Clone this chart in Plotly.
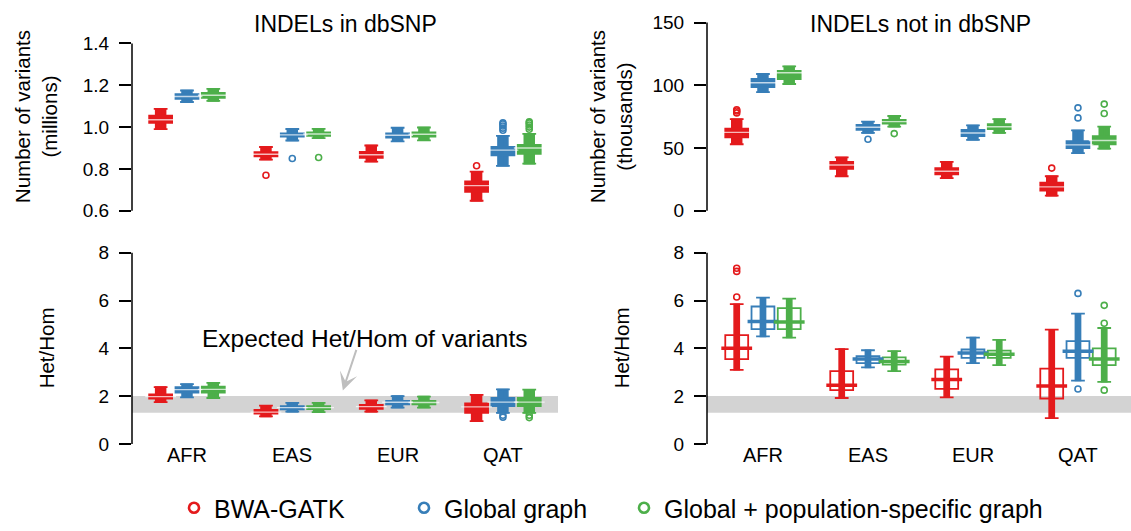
import plotly.graph_objects as go

W, H = 1131, 531
FONT = "Liberation Sans, Arial, Helvetica, sans-serif"

categories = ["AFR", "EAS", "EUR", "QAT"]
methods = ["BWA-GATK", "Global graph", "Global + population-specific graph"]
colors = ["#E41A1C", "#377EB8", "#4DAF4A"]
offsets = [-0.25, 0.0, 0.25]

# ---- INDELs in dbSNP : number of variants (millions); rows = methods, cols = categories
in_lo = [[0.99, 0.845, 0.835, 0.648], [1.12, 0.936, 0.932, 0.815], [1.125, 0.947, 0.937, 0.825]]
in_q1 = [[1.02, 0.86, 0.853, 0.69], [1.135, 0.955, 0.95, 0.865], [1.14, 0.958, 0.955, 0.872]]
in_med = [[1.035, 0.87, 0.868, 0.72], [1.146, 0.963, 0.961, 0.89], [1.152, 0.967, 0.966, 0.90]]
in_q3 = [[1.055, 0.88, 0.882, 0.74], [1.158, 0.97, 0.97, 0.905], [1.163, 0.975, 0.975, 0.915]]
in_hi = [[1.087, 0.905, 0.912, 0.787], [1.175, 0.991, 0.997, 0.958], [1.183, 0.992, 0.998, 0.968]]
in_out = [[[], [0.77], [], [0.815]],
          [[], [0.85], [], [0.985, 0.995, 1.005, 1.015, 1.02]],
          [[], [0.855], [], [0.99, 1.0, 1.01, 1.02, 1.025]]]

# ---- INDELs not in dbSNP : number of variants (thousands)
not_lo = [[53, 27.5, 26, 12], [94.5, 62, 56.5, 46], [101, 67, 62, 49.5]]
not_q1 = [[58.5, 33.5, 29, 16], [98.5, 64.5, 59.5, 50], [105, 69.5, 65, 53]]
not_med = [[62.5, 36.5, 31.5, 19], [102, 66.5, 62, 52.5], [110, 71, 67, 56]]
not_q3 = [[65.5, 39, 34, 22.5], [105, 68.5, 64.5, 55.5], [111.5, 72.5, 69, 59.5]]
not_hi = [[73, 42.5, 39, 27.5], [109, 71, 68, 64], [115, 75.5, 73, 67]]
not_out = [[[78, 79.5, 80.5], [], [], [34]],
           [[], [57], [], [74, 82]],
           [[], [61.5], [], [77.5, 85]]]

# ---- Het/Hom, INDELs in dbSNP
hh_in_lo = [[1.75, 1.15, 1.35, 0.95], [1.95, 1.35, 1.52, 1.3], [1.92, 1.33, 1.52, 1.3]]
hh_in_q1 = [[1.9, 1.27, 1.47, 1.3], [2.15, 1.45, 1.65, 1.58], [2.15, 1.46, 1.65, 1.58]]
hh_in_med = [[1.98, 1.33, 1.56, 1.55], [2.27, 1.52, 1.74, 1.75], [2.28, 1.52, 1.73, 1.75]]
hh_in_q3 = [[2.07, 1.42, 1.63, 1.7], [2.38, 1.58, 1.8, 1.93], [2.4, 1.58, 1.8, 1.92]]
hh_in_hi = [[2.38, 1.6, 1.82, 2.05], [2.5, 1.72, 2.0, 2.28], [2.55, 1.72, 1.98, 2.27]]
hh_in_out = [[[], [], [], []], [[], [], [], [1.12, 1.2]], [[], [], [], [1.1, 1.2]]]

# ---- Het/Hom, INDELs not in dbSNP
hh_not_lo = [[3.1, 1.92, 1.95, 1.08], [4.5, 3.2, 3.38, 2.65], [4.45, 3.05, 3.3, 2.6]]
hh_not_q1 = [[3.55, 2.25, 2.3, 1.9], [4.8, 3.38, 3.6, 3.6], [4.8, 3.32, 3.6, 3.3]]
hh_not_med = [[4.0, 2.45, 2.7, 2.42], [5.12, 3.55, 3.8, 3.88], [5.1, 3.45, 3.75, 3.55]]
hh_not_q3 = [[4.55, 3.05, 3.12, 3.15], [5.75, 3.67, 3.95, 4.3], [5.68, 3.62, 3.9, 4.0]]
hh_not_hi = [[5.85, 3.97, 3.65, 4.78], [6.12, 3.92, 4.45, 5.45], [6.08, 3.88, 4.35, 4.85]]
hh_not_out = [[[6.15, 7.22, 7.35], [], [], []],
              [[], [], [], [2.3, 6.3]],
              [[], [], [], [2.25, 5.05, 5.8]]]

expected_band = [1.3, 2.0]

titles = ["INDELs in dbSNP", "INDELs not in dbSNP"]
ytitles = ["Number of variants<br>(millions)", "Number of variants<br>(thousands)", "Het/Hom", "Het/Hom"]
yticks_in = [0.6, 0.8, 1.0, 1.2, 1.4]
yticks_not = [0, 50, 100, 150]
yticks_hh = [0, 2, 4, 6, 8]


def px_x(p):
    return p / W


def px_y(p):
    return 1 - p / H


panels = [
    dict(xa="x", ya="y", data=(in_lo, in_q1, in_med, in_q3, in_hi, in_out), filled=True),
    dict(xa="x2", ya="y2", data=(not_lo, not_q1, not_med, not_q3, not_hi, not_out), filled=True),
    dict(xa="x3", ya="y3", data=(hh_in_lo, hh_in_q1, hh_in_med, hh_in_q3, hh_in_hi, hh_in_out), filled=True),
    dict(xa="x4", ya="y4", data=(hh_not_lo, hh_not_q1, hh_not_med, hh_not_q3, hh_not_hi, hh_not_out), filled=False),
]

fig = go.Figure()
BOXW = 0.218

for pi, p in enumerate(panels):
    lo, q1, med, q3, hi, out = p["data"]
    for mi in range(3):
        col = colors[mi]
        pos = [i + 1 + offsets[mi] for i in range(len(categories))]
        # dense column of jittered sample points (spanning whisker range)
        fig.add_trace(go.Box(
            x=pos, q1=lo[mi], median=med[mi], q3=hi[mi], lowerfence=lo[mi], upperfence=hi[mi],
            width=0.095 if p["filled"] else 0.05, fillcolor=col,
            line=dict(color=col, width=1.5),
            boxpoints=False, orientation="v", showlegend=False, hoverinfo="skip",
            xaxis=p["xa"], yaxis=p["ya"]))
        # main box
        fig.add_trace(go.Box(
            x=pos, q1=q1[mi], median=med[mi], q3=q3[mi], lowerfence=lo[mi], upperfence=hi[mi],
            width=BOXW, whiskerwidth=0.6,
            fillcolor=col if p["filled"] else "rgba(0,0,0,0)",
            line=dict(color=col, width=1.8),
            boxpoints=False, orientation="v", showlegend=False, hoverinfo="skip",
            xaxis=p["xa"], yaxis=p["ya"]))
        # median line
        fig.add_trace(go.Scatter(
            x=pos, y=med[mi], mode="markers", showlegend=False, hoverinfo="skip",
            marker=dict(symbol="line-ew", size=22,
                        line=dict(color="rgba(255,255,255,0.7)" if p["filled"] else col,
                                  width=1.4 if p["filled"] else 3.5)),
            xaxis=p["xa"], yaxis=p["ya"]))
        # outliers
        ox, oy = [], []
        for ci, vals in enumerate(out[mi]):
            for v in vals:
                ox.append(pos[ci])
                oy.append(v)
        fig.add_trace(go.Scatter(
            x=ox, y=oy, mode="markers", showlegend=False, hoverinfo="skip",
            marker=dict(symbol="circle-open", size=6, color=col, line=dict(color=col, width=1.6)),
            xaxis=p["xa"], yaxis=p["ya"]))

# legend entries (one legend per entry so spacing matches)
legend_names = ["legend", "legend2", "legend3"]
legend_x = [174, 404, 624]
for mi in range(3):
    fig.add_trace(go.Scatter(
        x=[None], y=[None], mode="markers", name=methods[mi], showlegend=True,
        legend=legend_names[mi],
        marker=dict(symbol="circle-open", size=10, color=colors[mi], line=dict(color=colors[mi], width=2.6)),
        xaxis="x", yaxis="y"))

# layout geometry (pixels)
left_dom = [px_x(132), px_x(558)]
right_dom = [px_x(707), 1.0]
top_dom = [px_y(220.7), px_y(12.3)]
bot_dom = [px_y(459.8), px_y(248.2)]
left_range = [0.478, 4.523]
right_range = [0.467, 4.505]


def xax(dom, rng, anchor):
    return dict(domain=dom, range=rng, anchor=anchor, showticklabels=False, ticks="", showline=False,
                showgrid=False, zeroline=False, fixedrange=True)


def yax(dom, rng, tv, fmt, anchor):
    return dict(domain=dom, range=rng, anchor=anchor, tickvals=tv, tickformat=fmt, ticks="outside", ticklen=12,
                tickwidth=1.5, tickcolor="black", showline=False, showgrid=False, zeroline=False,
                tickfont=dict(size=19, color="black"), ticklabelstandoff=6, fixedrange=True)


def leg(xpx):
    return dict(orientation="h", x=px_x(xpx), xanchor="left", y=px_y(518), yanchor="middle",
                font=dict(size=25, color="black"), bgcolor="rgba(0,0,0,0)")


layout = dict(
    width=W, height=H, margin=dict(l=0, r=0, t=0, b=0),
    paper_bgcolor="white", plot_bgcolor="white",
    font=dict(family=FONT, color="black"),
    boxmode="overlay",
    xaxis=xax(left_dom, left_range, "y"), yaxis=yax(top_dom, [0.564, 1.536], yticks_in, ".1f", "x"),
    xaxis2=xax(right_dom, right_range, "y2"), yaxis2=yax(top_dom, [-6, 156], yticks_not, "d", "x2"),
    xaxis3=xax(left_dom, left_range, "y3"), yaxis3=yax(bot_dom, [-0.32, 8.32], yticks_hh, "d", "x3"),
    xaxis4=xax(right_dom, right_range, "y4"), yaxis4=yax(bot_dom, [-0.32, 8.32], yticks_hh, "d", "x4"),
    showlegend=True,
    legend=leg(legend_x[0]), legend2=leg(legend_x[1]), legend3=leg(legend_x[2]),
)
fig.update_layout(**layout)

shapes = []
# expected Het/Hom band
for xa, ya in [("x3", "y3"), ("x4", "y4")]:
    shapes.append(dict(type="rect", xref=f"{xa} domain", yref=ya, x0=0, x1=1,
                       y0=expected_band[0], y1=expected_band[1], fillcolor="#D3D3D3",
                       line=dict(width=0), layer="below"))
# y-axis lines spanning the tick range
for xa, ya, tv in [("x", "y", yticks_in), ("x2", "y2", yticks_not), ("x3", "y3", yticks_hh), ("x4", "y4", yticks_hh)]:
    shapes.append(dict(type="line", xref=f"{xa} domain", yref=ya, x0=0, x1=0, y0=tv[0], y1=tv[-1],
                       line=dict(color="black", width=1.5)))
fig.update_layout(shapes=shapes)

ann = []
ann.append(dict(text=titles[0], x=px_x(345), y=px_y(22), xref="paper", yref="paper",
                showarrow=False, font=dict(size=23), xanchor="center", yanchor="middle"))
ann.append(dict(text=titles[1], x=px_x(920), y=px_y(22), xref="paper", yref="paper",
                showarrow=False, font=dict(size=23), xanchor="center", yanchor="middle"))
ann.append(dict(text=ytitles[0], x=px_x(36), y=px_y(117), xref="paper", yref="paper", textangle=-90,
                showarrow=False, font=dict(size=20.5), xanchor="center", yanchor="middle"))
ann.append(dict(text=ytitles[1], x=px_x(611), y=px_y(117), xref="paper", yref="paper", textangle=-90,
                showarrow=False, font=dict(size=20.5), xanchor="center", yanchor="middle"))
ann.append(dict(text=ytitles[2], x=px_x(46), y=px_y(354), xref="paper", yref="paper", textangle=-90,
                showarrow=False, font=dict(size=20.5), xanchor="center", yanchor="middle"))
ann.append(dict(text=ytitles[3], x=px_x(621), y=px_y(354), xref="paper", yref="paper", textangle=-90,
                showarrow=False, font=dict(size=20.5), xanchor="center", yanchor="middle"))
for xa in ["x3", "x4"]:
    for ci, c in enumerate(categories):
        ann.append(dict(text=c, x=ci + 1, y=px_y(463), xref=xa, yref="paper", showarrow=False,
                        font=dict(size=20), xanchor="center", yanchor="middle"))
ann.append(dict(text="Expected Het/Hom of variants", x=px_x(364), y=px_y(344), xref="paper", yref="paper",
                showarrow=False, font=dict(size=24.5), xanchor="center", yanchor="middle"))
ann.append(dict(text="", x=2.48, y=2.24, xref="x3", yref="y3", showarrow=True, ax=14, ay=-42,
                arrowhead=3, arrowsize=1.5, arrowwidth=2, arrowcolor="#BEBEBE"))
fig.update_layout(annotations=ann)

fig.write_html("out.html")
